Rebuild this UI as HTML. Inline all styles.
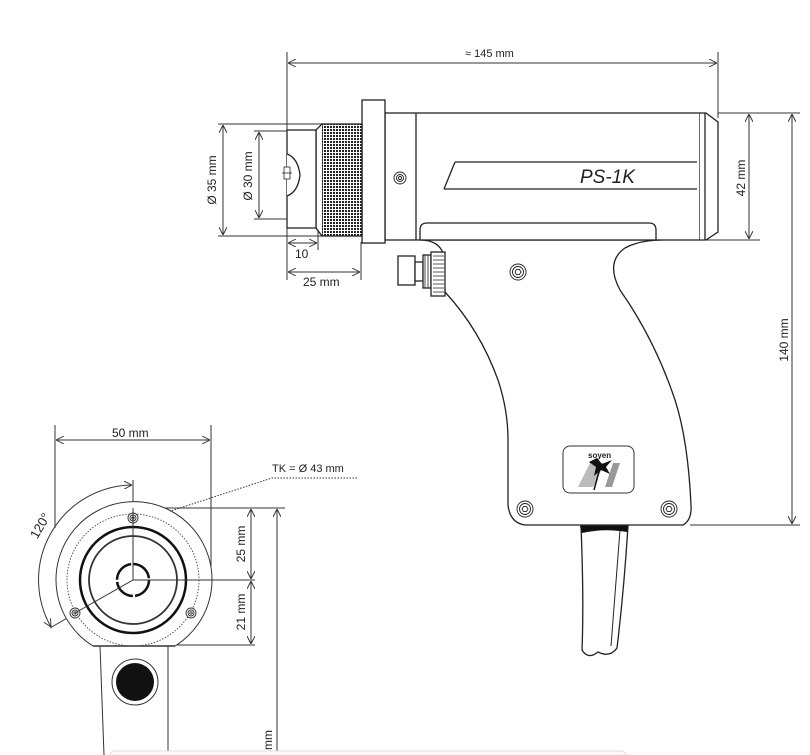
<!DOCTYPE html>
<html><head><meta charset="utf-8"><style>
html,body{margin:0;padding:0;background:#fff;}
svg{display:block;}
text{font-family:"Liberation Sans",sans-serif;fill:#222;}
</style></head><body>
<svg width="810" height="755" viewBox="0 0 810 755" xmlns="http://www.w3.org/2000/svg">
<defs>
<pattern id="kn" width="3" height="3" patternUnits="userSpaceOnUse"><rect width="3" height="3" fill="#fff"/><rect width="2" height="2" fill="#222"/></pattern>
<marker id="ar" viewBox="0 0 10 10" refX="10" refY="5" markerWidth="8" markerHeight="8" orient="auto-start-reverse" markerUnits="userSpaceOnUse"><path d="M0,0 L10,5 L0,10" fill="none" stroke="#333" stroke-width="1.2"/></marker>
<linearGradient id="sh" x1="0" y1="0" x2="0" y2="1"><stop offset="0" stop-color="#fff"/><stop offset="1" stop-color="#eee"/></linearGradient>
</defs>
<g stroke="#333" stroke-width="1" fill="none">
<line x1="287" y1="52" x2="287" y2="250"/>
<line x1="718" y1="52" x2="718" y2="118"/>
<line x1="288" y1="63" x2="717" y2="63" marker-start="url(#ar)" marker-end="url(#ar)"/>
<line x1="718" y1="113" x2="800" y2="113"/>
<line x1="700" y1="240" x2="760" y2="240"/>
<line x1="749" y1="114" x2="749" y2="239" marker-start="url(#ar)" marker-end="url(#ar)"/>
<line x1="690" y1="525" x2="800" y2="525"/>
<line x1="792" y1="114" x2="792" y2="524" marker-start="url(#ar)" marker-end="url(#ar)"/>
<line x1="218" y1="124" x2="322" y2="124"/>
<line x1="218" y1="236" x2="322" y2="236"/>
<line x1="223" y1="125" x2="223" y2="235" marker-start="url(#ar)" marker-end="url(#ar)"/>
<line x1="254" y1="131" x2="290" y2="131"/>
<line x1="254" y1="219" x2="290" y2="219"/>
<line x1="259" y1="132" x2="259" y2="218" marker-start="url(#ar)" marker-end="url(#ar)"/>
<line x1="318" y1="228" x2="318" y2="250"/>
<line x1="288" y1="243" x2="317" y2="243" marker-start="url(#ar)" marker-end="url(#ar)"/>
<line x1="361" y1="242" x2="361" y2="280"/>
<line x1="287" y1="250" x2="287" y2="280"/>
<line x1="288" y1="272" x2="360" y2="272" marker-start="url(#ar)" marker-end="url(#ar)"/>
</g>
<g stroke="#222" stroke-width="1.3" fill="#fff">
<!-- grip -->
<path d="M420,240 Q440,240 444,256 L445,292 Q480,330 498,380 Q508,410 508,440 L508,505 Q510,523 525,525 L683,525 Q692,520 691,505 Q688,440 675,400 Q655,340 620,290 Q605,262 625,248 Q640,240 662,240 Z"/>
<!-- main body -->
<rect x="385" y="113" width="315" height="127"/>
<line x1="416" y1="113" x2="416" y2="240"/>
<path d="M420,240 L420,230 Q420,223 427,223 L649,223 Q656,223 656,230 L656,240" fill="none"/>
<rect x="362" y="100" width="23" height="143"/>
<rect x="322" y="124" width="40" height="112" fill="url(#kn)"/>
<path d="M322,124 L316,130 L316,228 L322,236"/>
<rect x="287" y="130" width="29" height="98"/>
<path d="M287,154 Q298,158 300,175 Q298,192 287,196"/>
<path d="M700,113 L706,113 L718,122 L718,232 L706,240 L700,240"/>
<line x1="705" y1="113" x2="705" y2="240"/>
<path d="M455,162 L697,162 M444,189 L697,189 M455,162 L444,189" fill="none"/>
<rect x="398" y="256" width="17" height="29"/>
<rect x="415" y="262" width="8" height="19"/>
<rect x="423" y="255" width="8" height="33"/>
<rect x="431" y="252" width="14" height="44"/>
</g>
<g stroke="#222" stroke-width="0.8">
<line x1="425" y1="255" x2="425" y2="288"/><line x1="428" y1="255" x2="428" y2="288"/>
<path d="M433,256 H444 M433,260 H444 M433,264 H444 M433,268 H444 M433,272 H444 M433,276 H444 M433,280 H444 M433,284 H444 M433,288 H444 M433,292 H444"/>
<rect x="284" y="167" width="6" height="12" fill="#fff"/><line x1="282" y1="173" x2="292" y2="173"/>
</g>
<text x="580" y="183" font-size="19" font-style="italic">PS-1K</text>
<g stroke="#222" fill="none" stroke-width="0.9">
<circle cx="400" cy="178" r="6"/><circle cx="400" cy="178" r="3.5"/><circle cx="400" cy="178" r="1.5"/>
<circle cx="518" cy="272" r="8"/><circle cx="518" cy="272" r="5.5"/><path d="M515,272 l1.5,-2.6 h3 l1.5,2.6 l-1.5,2.6 h-3z"/>
<circle cx="525" cy="509" r="8"/><circle cx="525" cy="509" r="5.5"/><path d="M522,509 l1.5,-2.6 h3 l1.5,2.6 l-1.5,2.6 h-3z"/>
<circle cx="669" cy="509" r="8"/><circle cx="669" cy="509" r="5.5"/><path d="M666,509 l1.5,-2.6 h3 l1.5,2.6 l-1.5,2.6 h-3z"/>
</g>
<rect x="563" y="446" width="71" height="47" rx="7" fill="#fff" stroke="#333" stroke-width="1"/>
<polygon points="578,487 590,463 605,463 593,487" fill="#bbb"/>
<polygon points="605,487 613,463 620,463 612,487" fill="#999"/>
<polygon points="597,458 602,464 612,460 606,467 610,474 601,470 594,476 596,467 589,462" fill="#111"/>
<line x1="600" y1="468" x2="594" y2="490" stroke="#111" stroke-width="1.5"/>
<text x="588" y="458" font-size="8" font-weight="bold">soyen</text>
<path d="M581,526 L628,526 Q624,590 617,648 Q610,658 598,652 Q588,660 582,650 Q584,600 581,526 Z" fill="#fff" stroke="#222" stroke-width="1.3"/>
<line x1="620" y1="530" x2="611" y2="646" stroke="#222" stroke-width="1"/>
<path d="M580,526 L628,526 L627,532 Q604,528 582,533 Z" fill="#111"/>
<text x="465" y="57" font-size="11">≈ 145 mm</text>
<text x="295" y="258" font-size="12">10</text>
<text x="303" y="286" font-size="12">25 mm</text>
<text font-size="12" transform="translate(216,180) rotate(-90)" text-anchor="middle">Ø 35 mm</text>
<text font-size="12" transform="translate(252,176) rotate(-90)" text-anchor="middle">Ø 30 mm</text>
<text font-size="12" transform="translate(745,178) rotate(-90)" text-anchor="middle">42 mm</text>
<text font-size="12" transform="translate(788,340) rotate(-90)" text-anchor="middle">140 mm</text>

<g stroke="#333" stroke-width="1" fill="none">
<line x1="55" y1="425" x2="55" y2="528"/>
<line x1="211" y1="425" x2="211" y2="580"/>
<line x1="56" y1="440" x2="210" y2="440" marker-start="url(#ar)" marker-end="url(#ar)"/>
<line x1="133" y1="480" x2="133" y2="580"/>
<line x1="133" y1="508" x2="285" y2="508"/>
<line x1="170" y1="645" x2="255" y2="645"/>
<line x1="251" y1="509" x2="251" y2="579" marker-start="url(#ar)" marker-end="url(#ar)"/>
<line x1="251" y1="581" x2="251" y2="644" marker-start="url(#ar)" marker-end="url(#ar)"/>
<line x1="277" y1="509" x2="277" y2="755" marker-start="url(#ar)"/>
<line x1="133" y1="580" x2="50" y2="628"/>
<path d="M132,485 A95,95 0 0 0 51,627" marker-start="url(#ar)" marker-end="url(#ar)"/>
<path d="M357,478 L272,478 L140,521" stroke-dasharray="1.5,1.5"/>
<path d="M100,646 L104,755 M168,646 L168,755"/>
</g>
<path d="M93,646 A78,78 0 1 1 175,646 Z" fill="#fff" stroke="#333" stroke-width="1"/>
<line x1="93" y1="646" x2="175" y2="646" stroke="#333" stroke-width="1.5"/>
<circle cx="133" cy="580" r="66" fill="none" stroke="#444" stroke-width="0.9" stroke-dasharray="1.5,1.5"/>
<circle cx="133" cy="580" r="53" fill="none" stroke="#111" stroke-width="2.5"/>
<circle cx="133" cy="580" r="44" fill="none" stroke="#333" stroke-width="1.8"/>
<circle cx="133" cy="580" r="16" fill="none" stroke="#111" stroke-width="2.5" stroke-dasharray="23,2.2"/>
<g stroke="#333" stroke-width="0.9" fill="#fff">
<circle cx="133" cy="518" r="5"/><circle cx="133" cy="518" r="3"/><circle cx="133" cy="518" r="1.2"/>
<circle cx="75" cy="613" r="5"/><circle cx="75" cy="613" r="3"/><circle cx="75" cy="613" r="1.2"/>
<circle cx="191" cy="613" r="5"/><circle cx="191" cy="613" r="3"/><circle cx="191" cy="613" r="1.2"/>
</g>
<line x1="133" y1="580" x2="255" y2="580" stroke="#333" stroke-width="1"/>
<line x1="133" y1="508" x2="133" y2="580" stroke="#333" stroke-width="1"/>
<line x1="133" y1="580" x2="75" y2="613" stroke="#333" stroke-width="1"/>
<circle cx="135" cy="682" r="23" fill="#fff" stroke="#333" stroke-width="1"/>
<circle cx="135" cy="682" r="19" fill="#111"/>
<text x="112" y="437" font-size="12">50 mm</text>
<text x="272" y="472" font-size="11">TK = Ø 43 mm</text>
<text font-size="12" transform="translate(245,544) rotate(-90)" text-anchor="middle">25 mm</text>
<text font-size="12" transform="translate(245,612) rotate(-90)" text-anchor="middle">21 mm</text>
<text font-size="12" transform="translate(272,740) rotate(-90)" text-anchor="middle">mm</text>
<text font-size="13" transform="translate(44,528) rotate(-60)" text-anchor="middle">120°</text>
<rect x="110" y="751" width="516" height="10" rx="5" fill="url(#sh)" stroke="#ddd" stroke-width="1"/>
</svg>
</body></html>
